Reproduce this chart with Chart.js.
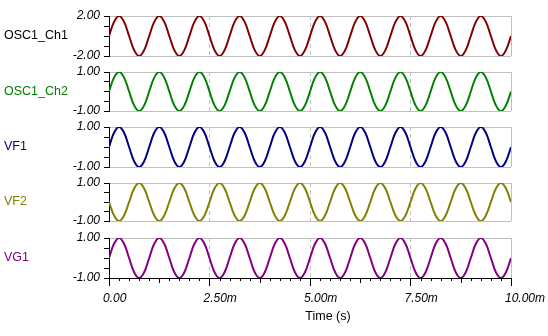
<!DOCTYPE html>
<html><head><meta charset="utf-8">
<script src="https://cdn.jsdelivr.net/npm/chart.js@4"></script>
<style>
html,body{margin:0;padding:0;background:#fff;}
#wrap{position:relative;width:548px;height:336px;overflow:hidden;background:#fff;}
#wrap canvas{position:absolute;left:0;}
</style></head><body><div id="wrap"></div>
<script>
// ---- data (time in ms) ----
const timeMs = [
  0,0.125,0.25,0.375,0.5,0.625,0.75,0.875,
  1,1.125,1.25,1.375,1.5,1.625,1.75,1.875,
  2,2.125,2.25,2.375,2.5,2.625,2.75,2.875,
  3,3.125,3.25,3.375,3.5,3.625,3.75,3.875,
  4,4.125,4.25,4.375,4.5,4.625,4.75,4.875,
  5,5.125,5.25,5.375,5.5,5.625,5.75,5.875,
  6,6.125,6.25,6.375,6.5,6.625,6.75,6.875,
  7,7.125,7.25,7.375,7.5,7.625,7.75,7.875,
  8,8.125,8.25,8.375,8.5,8.625,8.75,8.875,
  9,9.125,9.25,9.375,9.5,9.625,9.75,9.875,
  10
];
const osc1Ch1 = [
  0,1.41,2,1.41,0,-1.41,-2,-1.41,
  0,1.41,2,1.41,0,-1.41,-2,-1.41,
  0,1.41,2,1.41,0,-1.41,-2,-1.41,
  0,1.41,2,1.41,0,-1.41,-2,-1.41,
  0,1.41,2,1.41,0,-1.41,-2,-1.41,
  0,1.41,2,1.41,0,-1.41,-2,-1.41,
  0,1.41,2,1.41,0,-1.41,-2,-1.41,
  0,1.41,2,1.41,0,-1.41,-2,-1.41,
  0,1.41,2,1.41,0,-1.41,-2,-1.41,
  0,1.41,2,1.41,0,-1.41,-2,-1.41,
  0
];
const osc1Ch2 = [
  0,0.71,1,0.71,0,-0.71,-1,-0.71,
  0,0.71,1,0.71,0,-0.71,-1,-0.71,
  0,0.71,1,0.71,0,-0.71,-1,-0.71,
  0,0.71,1,0.71,0,-0.71,-1,-0.71,
  0,0.71,1,0.71,0,-0.71,-1,-0.71,
  0,0.71,1,0.71,0,-0.71,-1,-0.71,
  0,0.71,1,0.71,0,-0.71,-1,-0.71,
  0,0.71,1,0.71,0,-0.71,-1,-0.71,
  0,0.71,1,0.71,0,-0.71,-1,-0.71,
  0,0.71,1,0.71,0,-0.71,-1,-0.71,
  0
];
const vf1 = [
  0,0.71,1,0.71,0,-0.71,-1,-0.71,
  0,0.71,1,0.71,0,-0.71,-1,-0.71,
  0,0.71,1,0.71,0,-0.71,-1,-0.71,
  0,0.71,1,0.71,0,-0.71,-1,-0.71,
  0,0.71,1,0.71,0,-0.71,-1,-0.71,
  0,0.71,1,0.71,0,-0.71,-1,-0.71,
  0,0.71,1,0.71,0,-0.71,-1,-0.71,
  0,0.71,1,0.71,0,-0.71,-1,-0.71,
  0,0.71,1,0.71,0,-0.71,-1,-0.71,
  0,0.71,1,0.71,0,-0.71,-1,-0.71,
  0
];
const vf2 = [
  0,-0.71,-1,-0.71,0,0.71,1,0.71,
  0,-0.71,-1,-0.71,0,0.71,1,0.71,
  0,-0.71,-1,-0.71,0,0.71,1,0.71,
  0,-0.71,-1,-0.71,0,0.71,1,0.71,
  0,-0.71,-1,-0.71,0,0.71,1,0.71,
  0,-0.71,-1,-0.71,0,0.71,1,0.71,
  0,-0.71,-1,-0.71,0,0.71,1,0.71,
  0,-0.71,-1,-0.71,0,0.71,1,0.71,
  0,-0.71,-1,-0.71,0,0.71,1,0.71,
  0,-0.71,-1,-0.71,0,0.71,1,0.71,
  0
];
const vg1 = [
  0,0.71,1,0.71,0,-0.71,-1,-0.71,
  0,0.71,1,0.71,0,-0.71,-1,-0.71,
  0,0.71,1,0.71,0,-0.71,-1,-0.71,
  0,0.71,1,0.71,0,-0.71,-1,-0.71,
  0,0.71,1,0.71,0,-0.71,-1,-0.71,
  0,0.71,1,0.71,0,-0.71,-1,-0.71,
  0,0.71,1,0.71,0,-0.71,-1,-0.71,
  0,0.71,1,0.71,0,-0.71,-1,-0.71,
  0,0.71,1,0.71,0,-0.71,-1,-0.71,
  0,0.71,1,0.71,0,-0.71,-1,-0.71,
  0
];
const seriesNames = ['OSC1_Ch1','OSC1_Ch2','VF1','VF2','VG1'];
const seriesValues = [osc1Ch1, osc1Ch2, vf1, vf2, vg1];
const yMin = [-2,-1,-1,-1,-1];
const yMax = [2,1,1,1,1];
const yTickTopLabels = ['2.00','1.00','1.00','1.00','1.00'];
const yTickBottomLabels = ['-2.00','-1.00','-1.00','-1.00','-1.00'];
const xTickValues = [0,2.5,5,7.5,10];
const xTickLabels = ['0.00','2.50m','5.00m','7.50m','10.00m'];
const xAxisTitle = 'Time (s)';

// ---- styles / layout ----
const lineColors = ['#800000','#008000','#000080','#808000','#800080'];
const nameColors = ['#000000','#008000','#000080','#808000','#800080'];
const FONT = "'Liberation Sans', Arial, sans-serif";
const W = 548, H = 336;
const PLOT_LEFT = 109, PLOT_RIGHT = 511;
const panelTop = [16,72,127,183,238];
const panelBottom = [56,111,167,221,278];
const X_AXIS_H = 30;
const GRAY = '#c0c0c0';

const wrap = document.getElementById('wrap');

for (let i = 0; i < 5; i++) {
  const last = i === 4;
  const cTop = panelTop[i] - 10;
  const cH = last ? H - cTop : (panelBottom[i] - panelTop[i]) + 20;
  const cv = document.createElement('canvas');
  cv.width = W; cv.height = cH;
  cv.style.top = cTop + 'px';
  cv.style.width = W + 'px'; cv.style.height = cH + 'px';
  wrap.appendChild(cv);

  const lo = yMin[i], hi = yMax[i];
  const pts = timeMs.map((t, k) => ({x: t, y: seriesValues[i][k]}));

  const labelPlugin = {
    id: 'names' + i,
    afterDraw(chart) {
      const ctx = chart.ctx, ca = chart.chartArea;
      ctx.save();
      ctx.font = '12.5px ' + FONT;
      ctx.fillStyle = nameColors[i];
      ctx.textAlign = 'left';
      ctx.textBaseline = 'middle';
      ctx.fillText(seriesNames[i], 4, (ca.top + ca.bottom) / 2);
      if (last) {
        const xs = chart.scales.x;
        const y0 = Math.round(ca.bottom) + 0;
        ctx.strokeStyle = '#000';
        ctx.lineWidth = 1;
        ctx.beginPath();
        for (let k = 1; k < 40; k++) {
          if (k % 10 === 0) continue;
          const px = Math.round(xs.getPixelForValue(k * 0.25)) + 0.5;
          const len = (k % 5 === 0) ? 5 : 3;
          ctx.moveTo(px, y0);
          ctx.lineTo(px, y0 + len);
        }
        ctx.stroke();
        ctx.font = '12.5px ' + FONT;
        ctx.fillStyle = '#000';
        ctx.textAlign = 'center';
        ctx.fillText(xAxisTitle, 328, 317 - cTop);
      }
      ctx.restore();
    }
  };

  new Chart(cv, {
    type: 'line',
    data: {
      datasets: [{
        data: pts,
        borderColor: lineColors[i],
        borderWidth: 2,
        pointRadius: 0,
        tension: 0.4,
        fill: false
      }]
    },
    options: {
      responsive: false,
      animation: false,
      events: [],
      layout: {padding: {top: 10, left: 0, right: W - PLOT_RIGHT, bottom: last ? (H - panelBottom[i] - X_AXIS_H) : 10}},
      plugins: {legend: {display: false}, tooltip: {enabled: false}, title: {display: false}},
      scales: {
        x: {
          type: 'linear', min: 0, max: 10,
          afterBuildTicks: s => { s.ticks = xTickValues.map(v => ({value: v})); },
          afterFit: s => { s.height = last ? X_AXIS_H : 0; s.paddingLeft = 0; s.paddingRight = 0; },
          ticks: {
            display: last, align: 'start', labelOffset: -6, maxRotation: 0, minRotation: 0,
            autoSkip: false, padding: 5, color: '#000',
            font: {family: FONT, size: 12, style: 'italic'},
            callback: (v, idx) => xTickLabels[idx]
          },
          grid: {
            display: true, drawOnChartArea: true, drawTicks: last, tickLength: 8,
            tickColor: '#000', lineWidth: 1,
            color: c => (c.tick && c.tick.value === 0) ? 'rgba(0,0,0,0)' : GRAY
          },
          border: {
            display: last, color: '#000', width: 1,
            dash: c => (c.tick && c.tick.value > 0 && c.tick.value < 10) ? [4, 3] : []
          }
        },
        y: {
          type: 'linear', min: lo, max: hi,
          afterBuildTicks: s => { s.ticks = [lo, lo / 2, 0, hi / 2, hi].map(v => ({value: v})); },
          afterFit: s => { s.width = PLOT_LEFT; s.paddingTop = 0; s.paddingBottom = 0; },
          ticks: {
            padding: 4, color: '#000', autoSkip: false,
            font: {family: FONT, size: 12, style: 'italic'},
            callback: v => v === hi ? yTickTopLabels[i] : (v === lo ? yTickBottomLabels[i] : '')
          },
          grid: {
            drawOnChartArea: true, drawTicks: true, tickLength: 5, tickColor: '#000', lineWidth: 1,
            color: c => (c.tick && (c.tick.value === hi || c.tick.value === lo)) ? GRAY : 'rgba(0,0,0,0)'
          },
          border: {display: true, color: '#000', width: 1}
        }
      }
    },
    plugins: [labelPlugin]
  });
}
</script>
</body></html>
